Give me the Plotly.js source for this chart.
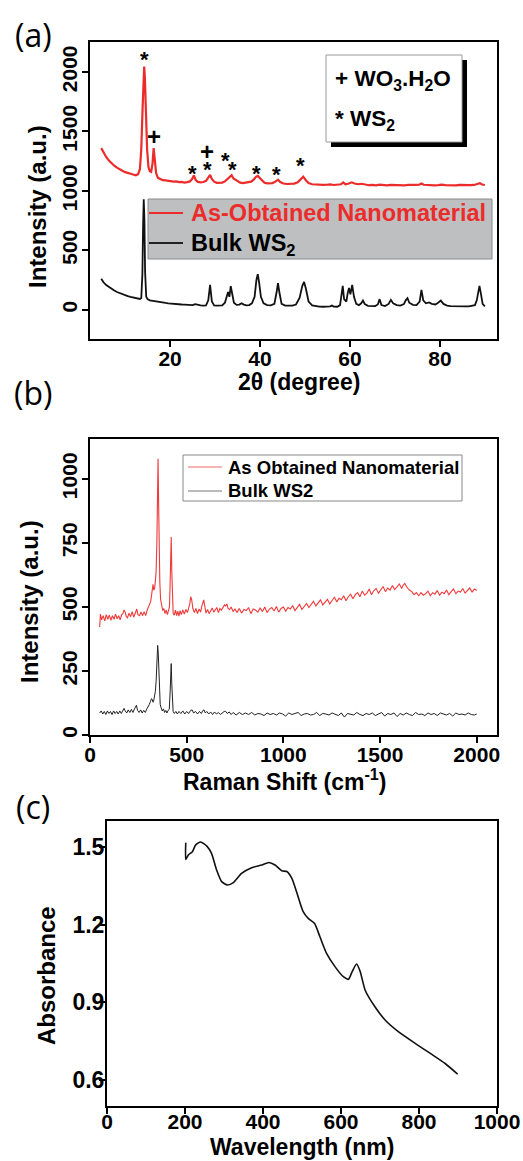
<!DOCTYPE html>
<html>
<head>
<meta charset="utf-8">
<script src="https://cdn.plot.ly/plotly-3.0.1.min.js"></script>
<style>html,body{margin:0;padding:0;background:#fff;}#chart{width:523px;height:1161px;}</style>
</head>
<body>
<div id="chart"></div>
<script>
// ---------- Panel (a): XRD ----------
const xrdNanoX = [
4.7,5.2,5.8,6.4,7.0,7.6,8.2,8.8,9.4,10.0,
10.6,11.2,11.8,12.4,12.9,13.3,13.6,13.9,14.1,14.25,
14.4,14.6,14.9,15.2,15.5,15.8,16.1,16.35,16.6,16.9,
17.3,17.8,18.4,19.0,19.6,20.2,20.8,21.4,22.0,22.6,
23.2,23.8,24.4,24.9,25.3,25.7,26.2,26.8,27.4,28.0,
28.5,28.9,29.3,29.8,30.4,31.0,31.6,32.2,32.8,33.3,
33.7,34.1,34.5,35.0,35.6,36.2,36.8,37.4,38.0,38.6,
39.1,39.5,39.9,40.4,41.0,41.6,42.2,42.8,43.5,44.0,
44.5,45.2,46.0,46.8,47.6,48.4,49.0,49.6,50.2,50.8,
51.6,52.4,53.2,54.0,54.8,55.6,56.4,57.2,58.0,58.5,
59.0,59.6,60.4,61.0,61.8,62.6,63.4,64.2,65.0,65.8,
66.6,67.4,68.2,69.0,69.8,70.6,71.4,72.2,73.0,73.8,
74.6,75.4,75.9,76.4,77.2,78.0,78.8,79.6,80.4,81.2,
82.0,82.8,83.6,84.4,85.2,86.0,86.8,87.6,88.4,88.9,
89.4,90.0];
const xrdNanoY = [
1360,1320,1285,1255,1232,1212,1196,1180,1170,1158,
1150,1140,1138,1132,1140,1185,1350,1700,1980,2045,
1950,1650,1350,1200,1165,1160,1230,1360,1250,1150,
1110,1098,1090,1088,1084,1082,1078,1080,1074,1076,
1070,1074,1080,1100,1130,1092,1076,1072,1075,1085,
1110,1134,1100,1078,1068,1066,1070,1080,1100,1125,
1132,1105,1095,1080,1070,1066,1068,1070,1078,1095,
1118,1126,1110,1085,1068,1064,1062,1066,1080,1094,
1075,1062,1058,1060,1062,1072,1098,1120,1090,1066,
1056,1052,1054,1050,1052,1055,1050,1052,1056,1072,
1055,1060,1072,1062,1056,1060,1052,1048,1050,1046,
1052,1048,1046,1050,1048,1045,1048,1046,1052,1048,
1050,1052,1062,1052,1048,1050,1046,1048,1052,1048,
1046,1048,1046,1050,1048,1046,1048,1050,1056,1064,
1054,1050];

const xrdBulkX = [
4.7,5.2,5.8,6.4,7.0,7.6,8.2,8.8,9.4,10.0,
10.6,11.2,11.8,12.4,12.9,13.3,13.6,13.85,14.0,14.15,
14.3,14.45,14.7,15.0,15.5,16.0,16.6,17.2,17.8,18.4,
19.0,19.6,20.2,20.8,21.4,22.0,22.6,23.2,23.8,24.4,
25.0,25.6,26.2,26.8,27.4,28.0,28.5,28.9,29.3,29.8,
30.4,31.0,31.6,32.2,32.6,32.9,33.2,33.5,33.8,34.2,
34.8,35.4,35.9,36.4,37.0,37.6,38.2,38.8,39.2,39.5,
39.8,40.2,40.8,41.6,42.4,43.2,43.7,44.0,44.3,44.8,
45.6,46.4,47.2,48.0,48.8,49.4,49.8,50.2,50.8,51.6,
52.4,53.2,54.0,54.8,55.6,56.0,56.4,57.2,57.8,58.1,
58.4,58.7,59.2,59.5,59.8,60.1,60.5,60.9,61.4,62.0,
62.5,62.9,63.3,64.0,64.8,65.6,66.2,66.6,67.0,67.8,
68.6,69.1,69.6,70.4,71.2,72.0,72.4,72.8,73.2,74.0,
74.8,75.5,75.9,76.3,76.9,77.6,78.2,79.0,79.6,80.2,
80.8,81.6,82.4,83.2,84.0,84.8,85.6,86.4,87.2,87.8,
88.2,88.5,88.8,89.1,89.5,90.0];
const xrdBulkY = [
262,232,208,190,176,162,150,140,132,124,
116,110,104,100,96,92,100,300,700,930,
760,320,110,90,80,76,72,68,64,60,
58,55,52,50,48,46,45,44,42,44,
40,48,40,38,36,38,80,210,70,38,
36,34,38,60,120,150,110,200,140,60,
42,44,56,44,38,40,55,110,250,300,
230,110,55,40,38,50,150,225,150,50,
36,34,36,45,100,200,235,180,70,38,
30,28,26,26,30,36,28,26,40,120,
202,90,70,140,185,130,210,110,50,40,
55,78,48,34,30,32,45,90,40,32,
50,84,55,40,36,48,80,98,60,42,
40,70,168,80,55,62,50,45,60,78,
50,36,32,30,32,28,30,30,34,40,
80,160,202,140,50,30];

// phase markers above the nanomaterial pattern
const markX = [14.4, 16.4, 25.1, 28.2, 28.4, 32.4, 33.8, 39.3, 43.7, 49.1];
const markY = [2105, 1454, 1150, 1335, 1178, 1255, 1180, 1150, 1135, 1210];
const markText = ['*', '+', '*', '+', '*', '*', '*', '*', '*', '*'];

// ---------- Panel (b): Raman ----------
const ramanNanoX = [
50,54,60,68,76,84,92,100,108,116,
124,132,140,148,156,164,170,176,182,188,
194,202,210,218,226,232,238,242,248,256,
264,272,280,288,296,302,308,314,320,326,
330,334,338,342,346,349,352,355,358,361,
365,370,376,382,388,394,400,406,411,414,
417,420,423,426,430,436,442,448,454,460,
466,472,480,488,496,504,510,516,521,526,
532,540,548,556,564,572,578,583,588,593,
600,608,616,624,632,640,648,656,664,672,
680,688,696,702,708,714,722,730,740,750,
760,772,784,796,808,820,832,844,856,868,
880,892,904,916,928,940,952,964,976,988,
1000,1012,1024,1036,1048,1060,1072,1084,1096,1108,
1120,1132,1144,1156,1168,1180,1192,1204,1216,1228,
1240,1252,1264,1276,1288,1300,1312,1324,1336,1348,
1360,1372,1384,1396,1408,1420,1432,1444,1456,1468,
1480,1492,1504,1516,1528,1540,1552,1564,1576,1588,
1600,1612,1620,1628,1640,1652,1664,1676,1688,1700,
1712,1724,1736,1748,1760,1772,1784,1796,1808,1820,
1832,1844,1856,1868,1880,1892,1904,1916,1928,1940,
1952,1964,1976,1988,2000];
const ramanNanoY = [
422,472,450,466,446,470,452,468,448,466,
452,472,454,466,450,470,474,488,480,462,
458,476,462,482,460,476,482,492,470,466,
480,466,482,466,488,500,512,522,555,588,
566,572,600,640,760,950,1079,900,700,600,
530,500,486,494,474,488,470,486,500,580,
700,773,640,510,476,468,488,466,484,464,
486,470,488,472,490,478,496,512,540,528,
494,478,494,474,492,480,502,515,528,506,
476,490,474,484,496,480,488,498,478,494,
488,500,508,504,512,494,490,500,482,492,
478,494,476,490,486,498,474,492,488,480,
496,482,500,478,492,498,484,502,480,494,
500,484,498,492,506,486,500,510,490,504,
514,498,508,522,504,516,528,508,520,530,
512,526,538,520,534,528,544,524,540,550,
532,548,556,540,562,546,554,570,548,564,
572,554,568,580,560,574,566,584,568,578,
590,572,586,592,576,566,560,548,556,544,
556,546,552,562,544,556,550,564,546,558,
552,566,548,560,570,552,562,558,572,554,
566,574,558,570,564];

const ramanBulkX = [
50,58,66,74,82,90,98,106,114,122,
130,138,146,154,162,170,176,182,190,198,
206,214,222,230,236,240,246,254,262,270,
278,286,294,300,306,312,318,322,326,330,
334,338,342,346,350,353,356,359,363,368,
374,380,386,392,398,404,410,414,417,420,
423,426,430,436,444,452,460,470,480,490,
500,510,520,528,536,546,556,566,576,584,
590,596,604,614,624,634,644,654,664,674,
684,694,702,710,720,730,740,756,772,788,
804,820,836,852,868,884,900,916,932,948,
964,980,996,1012,1028,1044,1060,1076,1092,1108,
1124,1140,1156,1172,1188,1204,1220,1236,1252,1268,
1284,1300,1316,1332,1348,1364,1380,1396,1412,1428,
1444,1460,1476,1492,1508,1524,1540,1556,1572,1588,
1604,1620,1636,1652,1668,1684,1700,1716,1732,1748,
1764,1780,1796,1812,1828,1844,1860,1876,1892,1908,
1924,1940,1956,1972,1988,2000];
const ramanBulkY = [
86,94,82,92,80,94,84,92,80,94,
84,92,82,94,84,98,104,94,86,98,
88,100,88,102,108,116,96,88,98,86,
96,88,102,108,118,130,142,138,128,136,
150,170,210,290,350,320,230,160,120,106,
94,102,88,96,86,96,100,160,230,279,
200,110,92,84,92,82,92,84,94,82,
92,84,96,98,86,92,82,92,84,96,
98,86,92,82,90,80,90,82,88,80,
88,92,92,84,90,80,88,78,88,80,
86,80,88,78,84,82,76,86,80,84,
78,86,82,74,86,80,84,88,76,82,
84,78,80,88,76,84,82,78,86,80,
76,86,70,84,82,78,88,80,76,84,
80,86,76,82,88,74,84,80,86,72,
84,78,86,80,76,88,80,82,76,86,
80,84,76,86,82,78,84,74,86,80,
82,78,86,80,78,82];

// ---------- Panel (c): UV-Vis ----------
const uvX = [202,202,209,219,227,240,256,268,281,294,
309,324,345,371,397,415,431,448,461,474,
486,503,516,532,546,563,585,606,619,629,
640,649,662,687,713,747,790,833,867,899];
const uvY = [1.516,1.452,1.47,1.481,1.507,1.519,1.503,1.475,1.411,1.366,
1.353,1.362,1.398,1.420,1.430,1.440,1.430,1.408,1.405,1.379,
1.327,1.250,1.224,1.205,1.153,1.089,1.037,0.999,0.989,1.02,
1.048,1.02,0.947,0.883,0.832,0.787,0.742,0.699,0.664,0.623];

// tick values and labels
const xrdXTicks = [20, 40, 60, 80];
const xrdXLabels = ['20', '40', '60', '80'];
const xrdYTicks = [0, 500, 1000, 1500, 2000];
const xrdYLabels = ['0', '500', '1000', '1500', '2000'];
const ramanXTicks = [0, 500, 1000, 1500, 2000];
const ramanXLabels = ['0', '500', '1000', '1500', '2000'];
const ramanYTicks = [0, 250, 500, 750, 1000];
const ramanYLabels = ['0', '250', '500', '750', '1000'];
const uvXTicks = [0, 200, 400, 600, 800, 1000];
const uvXLabels = ['0', '200', '400', '600', '800', '1000'];
const uvYTicks = [0.6, 0.9, 1.2, 1.5];
const uvYLabels = ['0.6', '0.9', '1.2', '1.5'];

// legend and axis texts
const xrdNames = ['As-Obtained Nanomaterial', 'Bulk WS<sub>2</sub>'];
const ramanNames = ['As Obtained Nanomaterial', 'Bulk WS2'];
const axisTitles = {
  xrdX: '2θ (degree)', xrdY: 'Intensity (a.u.)',
  ramanX: 'Raman Shift (cm<sup>-1</sup>)', ramanY: 'Intensity (a.u.)',
  uvX: 'Wavelength (nm)', uvY: 'Absorbance'
};

// ---------- layout helpers ----------
const W = 523, H = 1161;
const px = v => v / W;
const py = v => 1 - v / H;
const FONT = 'Liberation Sans, Arial, sans-serif';
const tickFont = {family: FONT, size: 21, color: '#000', weight: 'bold'};
const bold = arr => arr.map(t => '<b>' + t + '</b>');

function axis(extra) {
  return Object.assign({
    showline: true, linewidth: 2, linecolor: '#000', mirror: true,
    ticks: 'outside', ticklen: 6, tickwidth: 2, tickcolor: '#000',
    showgrid: false, zeroline: false, tickfont: tickFont, automargin: false,
    tickmode: 'array', ticklabelstandoff: -3
  }, extra);
}

const RED_A = '#ec2b2b', RED_B = '#f03a3a';

const traces = [
  {x: xrdNanoX, y: xrdNanoY, xaxis: 'x', yaxis: 'y', type: 'scatter', mode: 'lines',
   name: 'As-Obtained Nanomaterial', line: {color: RED_A, width: 2.2}, showlegend: false},
  {x: xrdBulkX, y: xrdBulkY, xaxis: 'x', yaxis: 'y', type: 'scatter', mode: 'lines',
   name: 'Bulk WS2', line: {color: '#111', width: 1.8}, showlegend: false},
  {x: ramanNanoX, y: ramanNanoY, xaxis: 'x2', yaxis: 'y2', type: 'scatter', mode: 'lines',
   name: ramanNames[0], line: {color: RED_B, width: 1.1}, showlegend: false},
  {x: ramanBulkX, y: ramanBulkY, xaxis: 'x2', yaxis: 'y2', type: 'scatter', mode: 'lines',
   name: ramanNames[1], line: {color: '#222', width: 1}, showlegend: false},
  {x: uvX, y: uvY, xaxis: 'x3', yaxis: 'y3', type: 'scatter', mode: 'lines',
   name: 'Absorbance', line: {color: '#111', width: 1.6, shape: 'spline', smoothing: 0.6}, showlegend: false}
];

const labelFont = {family: 'Open Sans, Noto Sans, sans-serif', size: 32, color: '#000'};
const boldFont = (size, color) => ({family: FONT, size: size, color: color || '#000', weight: 'bold'});
function paperText(text, x, y, font, xanchor, angle) {
  return {text: text, xref: 'paper', yref: 'paper', x: px(x), y: py(y), showarrow: false,
    xanchor: xanchor || 'center', yanchor: 'middle', font: font, textangle: angle || 0};
}

const annotations = [
  paperText('(a)', 33, 35, labelFont),
  paperText('(b)', 33, 392, labelFont),
  paperText('(c)', 33, 806, labelFont),
  // axis titles
  paperText(axisTitles.xrdX, 299, 382, boldFont(23)),
  paperText(axisTitles.xrdY, 38, 207, boldFont(24), 'center', -90),
  paperText(axisTitles.ramanX, 284, 780, boldFont(23)),
  paperText(axisTitles.ramanY, 29, 602, boldFont(24), 'center', -90),
  paperText(axisTitles.uvX, 302, 1147, boldFont(23)),
  paperText(axisTitles.uvY, 46, 976, boldFont(24), 'center', -90),
  // phase key box
  paperText('+ WO<sub>3</sub>.H<sub>2</sub>O', 333, 80, boldFont(22.5), 'left'),
  paperText('* WS<sub>2</sub>', 333, 120, boldFont(22.5), 'left'),
  // legend (a)
  paperText(xrdNames[0], 189, 213, boldFont(23.5, RED_A), 'left'),
  paperText(xrdNames[1], 189, 244, boldFont(23.5), 'left'),
  // legend (b)
  paperText(ramanNames[0], 226, 467, boldFont(18.5), 'left'),
  paperText(ramanNames[1], 226, 490, boldFont(18.5), 'left')
];
markX.forEach((mx, i) => {
  annotations.push({text: markText[i], xref: 'x', yref: 'y', x: mx, y: markY[i], showarrow: false,
    xanchor: 'center', yanchor: 'middle',
    font: boldFont(markText[i] === '+' ? 24 : 22)});
});

function seg(x0, x1, y, color, width) {
  return {type: 'line', xref: 'paper', yref: 'paper', x0: px(x0), x1: px(x1), y0: py(y), y1: py(y),
    line: {color: color, width: width}};
}
const shapes = [
  // phase key with drop shadow
  {type: 'rect', xref: 'paper', yref: 'paper', x0: px(331), x1: px(467), y0: py(147), y1: py(60),
   fillcolor: '#000', line: {width: 0}},
  {type: 'rect', xref: 'paper', yref: 'paper', x0: px(326), x1: px(462), y0: py(142), y1: py(55),
   fillcolor: '#fff', line: {color: '#9a9a9a', width: 1}},
  // legend (a)
  {type: 'rect', xref: 'paper', yref: 'paper', x0: px(148), x1: px(492), y0: py(259), y1: py(199),
   fillcolor: '#bdbfc1', line: {color: '#8a8a8a', width: 1}},
  seg(149, 183, 213, RED_A, 2),
  seg(149, 183, 243, '#222', 1.8),
  // legend (b)
  {type: 'rect', xref: 'paper', yref: 'paper', x0: px(183), x1: px(462), y0: py(501), y1: py(455),
   fillcolor: '#fff', line: {color: '#888', width: 1}},
  seg(188, 222, 467, '#f06a6a', 1.2),
  seg(188, 222, 491, '#777', 1.2)
];

const layout = {
  width: W, height: H,
  margin: {l: 0, r: 0, t: 0, b: 0},
  paper_bgcolor: '#fff', plot_bgcolor: '#fff',
  font: {family: FONT, color: '#000'},
  showlegend: false,
  xaxis: axis({domain: [px(90), px(497)], range: [2.2, 92.7], tickvals: xrdXTicks, ticktext: bold(xrdXLabels), anchor: 'y',
    ticklabelstandoff: -6}),
  yaxis: axis({domain: [py(339), py(42)], range: [-245, 2252], tickvals: xrdYTicks, ticktext: bold(xrdYLabels), tickangle: -90, anchor: 'x'}),
  xaxis2: axis({domain: [px(90), px(497)], range: [0, 2105], tickvals: ramanXTicks, ticktext: bold(ramanXLabels), anchor: 'y2',
    ticklabelstandoff: -6}),
  yaxis2: axis({domain: [py(735), py(439)], range: [0, 1156], tickvals: ramanYTicks, ticktext: bold(ramanYLabels), tickangle: -90, anchor: 'x2'}),
  xaxis3: axis({domain: [px(107), px(497)], range: [0, 1000], tickvals: uvXTicks, ticktext: bold(uvXLabels), anchor: 'y3',
    ticklabelstandoff: -10}),
  yaxis3: axis({domain: [py(1106), py(821)], range: [0.5, 1.6], tickvals: uvYTicks, ticktext: bold(uvYLabels), anchor: 'x3',
    tickfont: {family: FONT, size: 23, color: '#000', weight: 'bold'}, ticklabelstandoff: -10}),
  annotations: annotations,
  shapes: shapes
};

Plotly.newPlot('chart', traces, layout, {displayModeBar: false, responsive: false});
</script>
</body>
</html>
